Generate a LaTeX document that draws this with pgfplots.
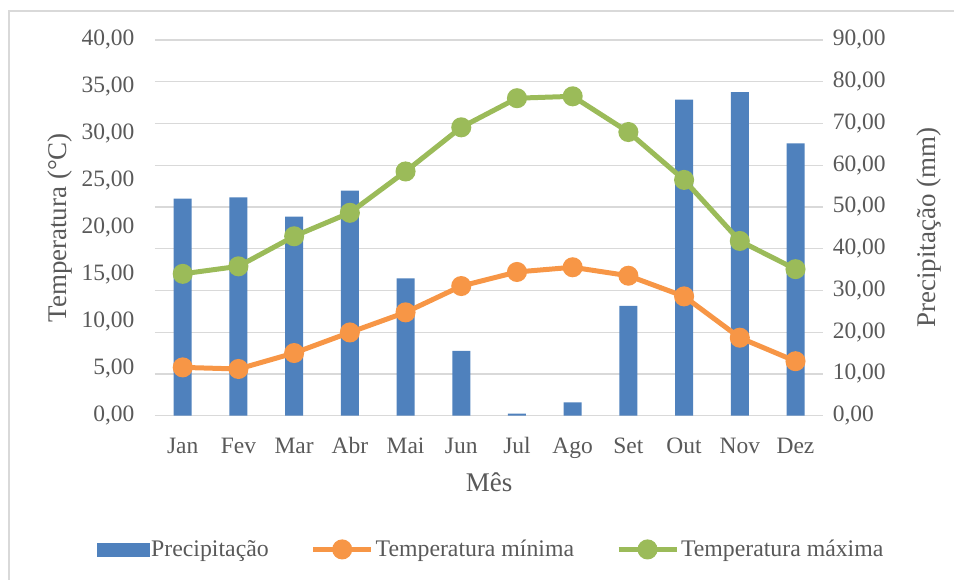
\documentclass[border=0pt]{standalone}
\usepackage{pgfplots}
\pgfplotsset{compat=1.18}
\usepackage{fontspec}
\setmainfont{Liberation Serif}
\definecolor{cblue}{HTML}{4F81BD}
\definecolor{corange}{HTML}{F79646}
\definecolor{cgreen}{HTML}{9BBB59}
\definecolor{cgrid}{HTML}{D9D9D9}
\definecolor{ctext}{HTML}{595959}
\pgfplotstableread{
x prec tmin tmax
0 52.0 5.14 15.1
1 52.3 4.97 15.9
2 47.7 6.67 19.1
3 53.9 8.86 21.6
4 32.9 11.0 26.0
5 15.5 13.8 30.7
6 0.5 15.3 33.8
7 3.2 15.8 34.0
8 26.3 14.9 30.2
9 75.7 12.7 25.1
10 77.5 8.3 18.6
11 65.2 5.8 15.6
}\datatable
\begin{document}
\begin{tikzpicture}[x=1pt,y=1pt]
\path (0,0) rectangle (955,580);
\draw[cgrid, line width=1.5pt] (9,0) -- (9,569) -- (955,569);
\pgfplotsset{
  common/.style={
    at={(155pt,164pt)}, anchor=south west, scale only axis,
    width=669pt, height=376pt,
    xmin=-0.5, xmax=11.5,
    axis line style={draw=none},
    major tick length=0pt,
    tick label style={font=\fontsize{23.5}{26}\selectfont, text=ctext},
    label style={font=\fontsize{27}{30}\selectfont, text=ctext},
    /pgf/number format/.cd, fixed, fixed zerofill, precision=2, use comma, assume math mode=true,
  }
}
\begin{axis}[common,
  ybar, bar width=18pt,
  ymin=0, ymax=90, ytick={0,10,...,90},
  yticklabel pos=right,
  ymajorgrids, grid style={cgrid, line width=1.3pt},
  xtick={0,...,11},
  xticklabels={Jan,Fev,Mar,Abr,Mai,Jun,Jul,Ago,Set,Out,Nov,Dez},
  xticklabel style={yshift=-18pt, text height=16pt, text depth=5pt},
  yticklabel style={xshift=6pt},
  xlabel={Mês},
  xlabel style={at={(axis description cs:0.5,-0.178)}, anchor=center},
  ylabel={Precipitação (mm)},
  ylabel style={at={(axis description cs:1.158,0.5)}, anchor=center},
]
\addplot[fill=cblue, draw=none] table[x=x, y=prec] {\datatable};
\end{axis}
\begin{axis}[common,
  ymin=0, ymax=40, ytick={0,5,...,40},
  axis x line=none,
  yticklabel style={xshift=-17pt},
  ylabel={Temperatura (°C)},
  ylabel style={at={(axis description cs:-0.142,0.5)}, anchor=center},
  legend style={at={(0.503,-0.356)}, anchor=center, draw=none, fill=none,
    legend columns=3, font=\fontsize{23.8}{26}\selectfont, text=ctext,
    /tikz/every even column/.append style={column sep=40pt},
    legend cell align=left, inner xsep=0pt},
]
\addlegendimage{legend image code/.code={\fill[cblue] (-2pt,-6.5pt) rectangle (50pt,6.5pt);}}
\addlegendentry{Precipitação}
\addplot[corange, line width=5pt, mark=*, mark size=7.5pt,
  legend image code/.code={\draw[line width=5pt] (0pt,0pt) -- (58pt,0pt); \fill (29pt,0pt) circle (7.5pt);}]
  table[x=x, y=tmin] {\datatable};
\addlegendentry{Temperatura mínima}
\addplot[cgreen, line width=5pt, mark=*, mark size=7.5pt,
  legend image code/.code={\draw[line width=5pt] (0pt,0pt) -- (58pt,0pt); \fill (29pt,0pt) circle (7.5pt);}]
  table[x=x, y=tmax] {\datatable};
\addlegendentry{Temperatura máxima}
\end{axis}
\end{tikzpicture}
\end{document}
